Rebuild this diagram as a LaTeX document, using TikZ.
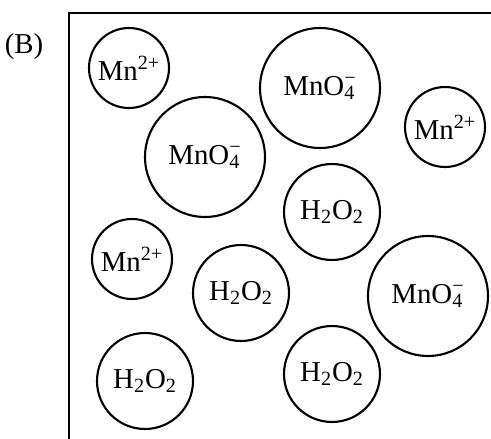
\documentclass[tikz,border=0pt]{standalone}
\usepackage{fontspec}
\setmainfont{Liberation Serif}
\usetikzlibrary{positioning}
\newcommand{\subsup}[2]{\rlap{\textsubscript{#1}}\textsuperscript{#2}}
\tikzset{
ion/.style={circle,draw,line width=1.2pt,inner sep=0pt,font=\fontsize{16.4}{19}\selectfont},
mn/.style={ion,minimum size=1.6cm},
mno/.style={ion,minimum size=2.4cm},
hp/.style={ion,minimum size=1.92cm},
lbl/.style={font=\fontsize{16.4}{19}\selectfont},
}
\begin{document}
\begin{tikzpicture}[x=0.02cm,y=-0.02cm]
	\useasboundingbox (0,0) rectangle (491,439);
	\node[lbl] (b) at (24,47) {(B)};
	% container
	\draw[line width=1.2pt] (69,445) -- (69,13) -- (500,13);

	\node[mn] (mn1) at (129,68) {Mn\textsuperscript{2+}};
	\node[mn] (mn2) at (445,127) {Mn\textsuperscript{2+}};
	\node[mn] (mn3) at (132,259) {Mn\textsuperscript{2+}};

	\node[mno] (mno1) at (320,88) {MnO\subsup{4}{−}};
	\node[mno] (mno2) at (205,157) {MnO\subsup{4}{−}};
	\node[mno] (mno3) at (428,296) {MnO\subsup{4}{−}};

	\node[hp] (hp1) at (332,212) {H\textsubscript{2}O\textsubscript{2}};
	\node[hp] (hp2) at (241,293) {H\textsubscript{2}O\textsubscript{2}};
	\node[hp] (hp3) at (145,381) {H\textsubscript{2}O\textsubscript{2}};
	\node[hp] (hp4) at (332,374) {H\textsubscript{2}O\textsubscript{2}};
\end{tikzpicture}
\end{document}
